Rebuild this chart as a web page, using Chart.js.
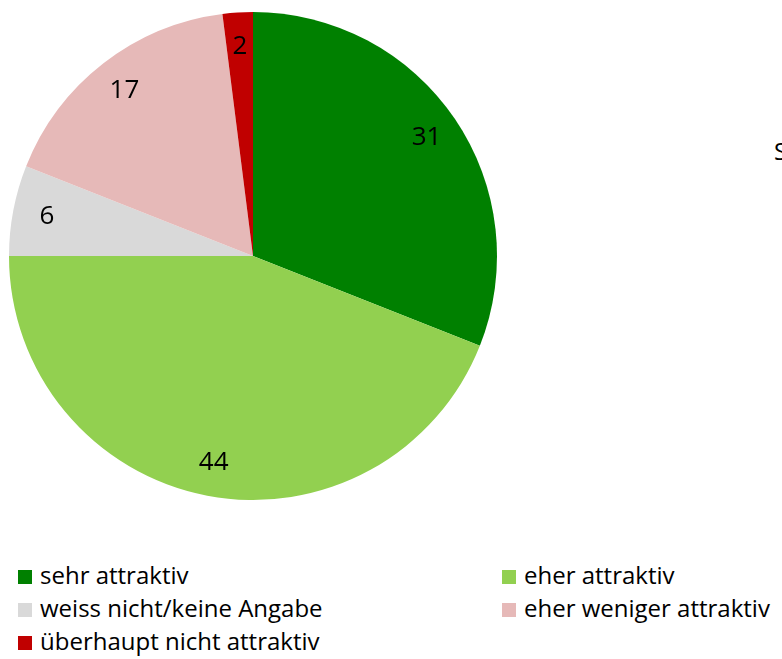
<!DOCTYPE html>
<html>
<head>
<meta charset="utf-8">
<script src="https://cdn.jsdelivr.net/npm/chart.js@4"></script>
<style>
  body { margin: 0; background: #fff; width: 782px; height: 659px; overflow: hidden; position: relative; font-family: "Open Sans", sans-serif; }
  #wrap { position: absolute; left: 0; top: 0; width: 506px; height: 512px; }
  .item { position: absolute; font-size: 24px; color: #000; white-space: nowrap; line-height: 28px; }
  .box { position: absolute; width: 14px; height: 14px; }
  #side { position: absolute; left: 774px; top: 134px; font-size: 24px; }
</style>
</head>
<body>
<div id="wrap"><canvas id="pie"></canvas></div>
<div id="legend"></div>
<div id="side">S</div>
<script>
const categories = ["sehr attraktiv", "eher attraktiv", "weiss nicht/keine Angabe", "eher weniger attraktiv", "überhaupt nicht attraktiv"];
const values = [31, 44, 6, 17, 2];
const colors = ["#008000", "#92D050", "#D9D9D9", "#E6B9B8", "#C00000"];

// labels inside the slices, near the rim
const sliceLabels = {
    id: "sliceLabels",
    afterDatasetsDraw(chart) {
        const ctx = chart.ctx;
        const meta = chart.getDatasetMeta(0);
        ctx.save();
        ctx.font = "26px 'Open Sans', sans-serif";
        ctx.fillStyle = "#000";
        ctx.textAlign = "center";
        ctx.textBaseline = "middle";
        meta.data.forEach(function(arc, i) {
            const mid = (arc.startAngle + arc.endAngle) / 2;
            const r = arc.outerRadius * 0.86;
            ctx.fillText(String(values[i]), arc.x + Math.cos(mid) * r, arc.y + Math.sin(mid) * r);
        });
        ctx.restore();
    }
};

new Chart(document.getElementById("pie"), {
    type: "pie",
    data: {
        labels: categories,
        datasets: [{
            data: values,
            backgroundColor: colors,
            borderWidth: 0
        }]
    },
    options: {
        responsive: true,
        maintainAspectRatio: false,
        animation: false,
        layout: { padding: 9 },
        plugins: {
            legend: { display: false },
            tooltip: { enabled: false }
        }
    },
    plugins: [sliceLabels]
});

// two-column legend under the pie
const legend = document.getElementById("legend");
categories.forEach(function(name, i) {
    const col = i % 2;
    const row = Math.floor(i / 2);
    const x = col === 0 ? 18 : 502;
    const y = 577 + row * 33;
    const box = document.createElement("div");
    box.className = "box";
    box.style.left = x + "px";
    box.style.top = (y - 7) + "px";
    box.style.background = colors[i];
    legend.appendChild(box);
    const txt = document.createElement("div");
    txt.className = "item";
    txt.style.left = (x + 22) + "px";
    txt.style.top = (y - 16) + "px";
    txt.textContent = name;
    legend.appendChild(txt);
});
</script>
</body>
</html>
